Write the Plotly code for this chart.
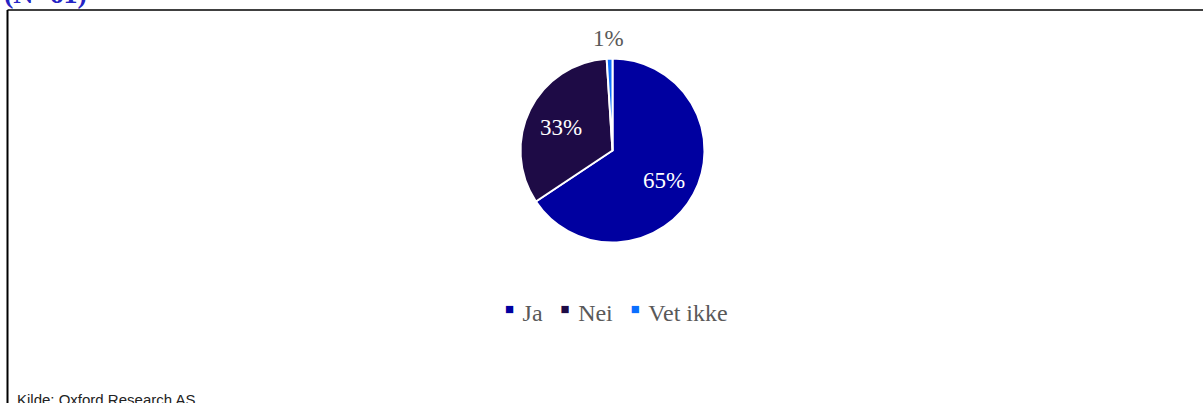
import math
import plotly.graph_objects as go

# Survey answers (share of respondents, %)
categories = ["Ja", "Nei", "Vet ikke"]
shares = [65, 33, 1]
colors = ["#0000A0", "#1E0B46", "#0A6EFF"]
label_colors = ["white", "white", "#595959"]
label_outside = [False, False, True]

title_text = "(N=61)"
source_text = "Kilde: Oxford Research AS"

W, H = 1203, 403
SERIF = "Liberation Serif, Times New Roman, serif"


def px_x(v):
    return v / W


def px_y(v):
    return 1 - v / H


fig = go.Figure()

# Pie centred at (612.5, 150.5) px with radius 92 px
cx, cy, r = 612.5, 150.5, 92
fig.add_trace(go.Pie(
    labels=categories,
    values=shares,
    sort=False,
    direction="clockwise",
    rotation=0,
    marker=dict(colors=colors, line=dict(color="white", width=2)),
    textinfo="none",
    hoverinfo="label+value",
    showlegend=False,
    domain=dict(x=[px_x(cx - 300), px_x(cx + 300)],
                y=[px_y(cy + r), px_y(cy - r)]),
))

# Percentage labels on the slice bisectors
total = sum(shares)
cum = 0
for val, col, outside in zip(shares, label_colors, label_outside):
    mid = (cum + val / 2) / total
    cum += val
    theta = 2 * math.pi * mid
    rho = r * (1.213 if outside else 0.63)
    lx = cx + rho * math.sin(theta)
    ly = cy - rho * math.cos(theta) + (0 if outside else 3)
    fig.add_annotation(text=f"{val}%", xref="paper", yref="paper",
                       x=px_x(lx), y=px_y(ly), xanchor="center", yanchor="middle",
                       showarrow=False,
                       font=dict(family=SERIF, size=23, color=col))

# Legend row: small coloured squares followed by the category names
items = []
for name, col in zip(categories, colors):
    items.append(
        f"<span style='font-size:15px;baseline-shift:7px;color:{col}'>■</span>"
        f"<span style='font-size:10px'>&nbsp;</span>&nbsp;{name}"
    )
legend_text = "&nbsp;&nbsp;&nbsp;".join(items)
fig.add_annotation(text=legend_text, xref="paper", yref="paper",
                   x=px_x(616.5), y=px_y(313), xanchor="center", yanchor="middle",
                   showarrow=False,
                   font=dict(family=SERIF, size=24, color="#595959"))

# Chart frame (left and top edges)
fig.add_shape(type="line", xref="paper", yref="paper",
              x0=px_x(7.5), x1=1.02, y0=px_y(10), y1=px_y(10),
              line=dict(color="black", width=1.6))
fig.add_shape(type="line", xref="paper", yref="paper",
              x0=px_x(7.5), x1=px_x(7.5), y0=px_y(10), y1=-0.05,
              line=dict(color="black", width=2))

fig.add_annotation(text=f"<b>{title_text}</b>", xref="paper", yref="paper",
                   x=px_x(2), y=px_y(11), xanchor="left", yanchor="bottom",
                   showarrow=False,
                   font=dict(family=SERIF, size=28, color="#2424C4"))

fig.add_annotation(text=source_text, xref="paper", yref="paper",
                   x=px_x(15), y=-0.0174, xanchor="left", yanchor="bottom",
                   showarrow=False,
                   font=dict(family="Liberation Sans, Arial, sans-serif",
                             size=15, color="#222222"))

fig.update_layout(
    width=W, height=H,
    margin=dict(l=0, r=0, t=0, b=0),
    paper_bgcolor="white",
    plot_bgcolor="white",
    showlegend=False,
)

fig.write_html("out.html")
